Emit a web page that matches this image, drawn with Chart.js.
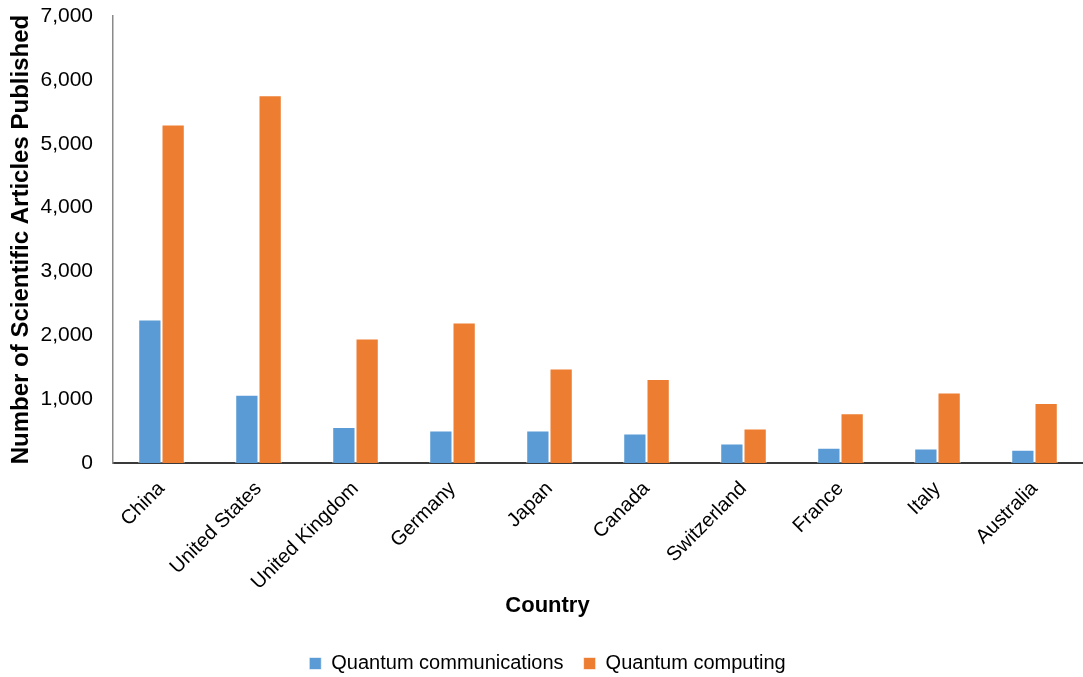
<!DOCTYPE html>
<html>
<head>
<meta charset="utf-8">
<script src="https://cdn.jsdelivr.net/npm/chart.js@4"></script>
<style>
  html, body { margin: 0; padding: 0; background: #fff; }
  #wrap { width: 1083px; height: 677px; }
</style>
</head>
<body>
<div id="wrap"><canvas id="chart" width="1083" height="677"></canvas></div>
<script>
const countries = ["China", "United States", "United Kingdom", "Germany", "Japan",
  "Canada", "Switzerland", "France", "Italy", "Australia"];
const communications = [2250, 1070, 565, 510, 510, 465, 305, 240, 230, 210];
const computing = [5300, 5760, 1950, 2200, 1480, 1315, 540, 780, 1105, 940];
const yTicks = [0, 1000, 2000, 3000, 4000, 5000, 6000, 7000];

const FONT = "'Liberation Sans', Arial, sans-serif";
Chart.defaults.font.family = FONT;
Chart.defaults.color = "#000";

const PAD_LEFT = 12;

new Chart(document.getElementById("chart"), {
  type: "bar",
  data: {
    labels: countries,
    datasets: [
      {
        label: "Quantum communications",
        data: communications,
        backgroundColor: "#5B9BD5",
        borderColor: "rgba(255,255,255,0.6)",
        borderWidth: 1,
      },
      {
        label: "Quantum computing",
        data: computing,
        backgroundColor: "#ED7D31",
        borderColor: "rgba(255,255,255,0.6)",
        borderWidth: 1,
      },
    ],
  },
  options: {
    responsive: false,
    animation: false,
    layout: { padding: { top: 16, right: 0, left: PAD_LEFT, bottom: 3.5 } },
    datasets: { bar: { barPercentage: 1, categoryPercentage: 0.48 } },
    scales: {
      x: {
        grid: { display: false, drawTicks: false },
        border: { color: "#3a3a3a", width: 2 },
        ticks: {
          font: { size: 20 },
          maxRotation: 45,
          minRotation: 45,
          padding: 14,
        },
        afterFit: (s) => { s.height = 128; },
      },
      y: {
        min: 0,
        max: 7000,
        grid: { display: false, drawTicks: false },
        border: { color: "#8a8a8a", width: 1.5 },
        afterBuildTicks: (s) => { s.ticks = yTicks.map((v) => ({ value: v })); },
        ticks: {
          font: { size: 21 },
          padding: 20,
          callback: (v) => Number(v).toLocaleString("en-US"),
        },
        title: {
          display: true,
          text: "Number of Scientific Articles Published",
          font: { size: 24, weight: "bold" },
          padding: { top: -5, bottom: 0 },
        },
        afterFit: (s) => {
          s.width = 113 - PAD_LEFT;
          s.paddingTop = 10;
          s.paddingBottom = 10;
        },
      },
    },
    plugins: {
      title: {
        display: true,
        position: "bottom",
        weight: 500,
        text: "Country",
        font: { size: 22, weight: "bold" },
        padding: { top: 2, bottom: 14 },
      },
      legend: {
        position: "bottom",
        maxHeight: 40,
        labels: {
          boxWidth: 12,
          boxHeight: 12,
          font: { size: 20 },
          padding: 20,
        },
      },
      tooltip: { enabled: false },
    },
  },
});
</script>
</body>
</html>
